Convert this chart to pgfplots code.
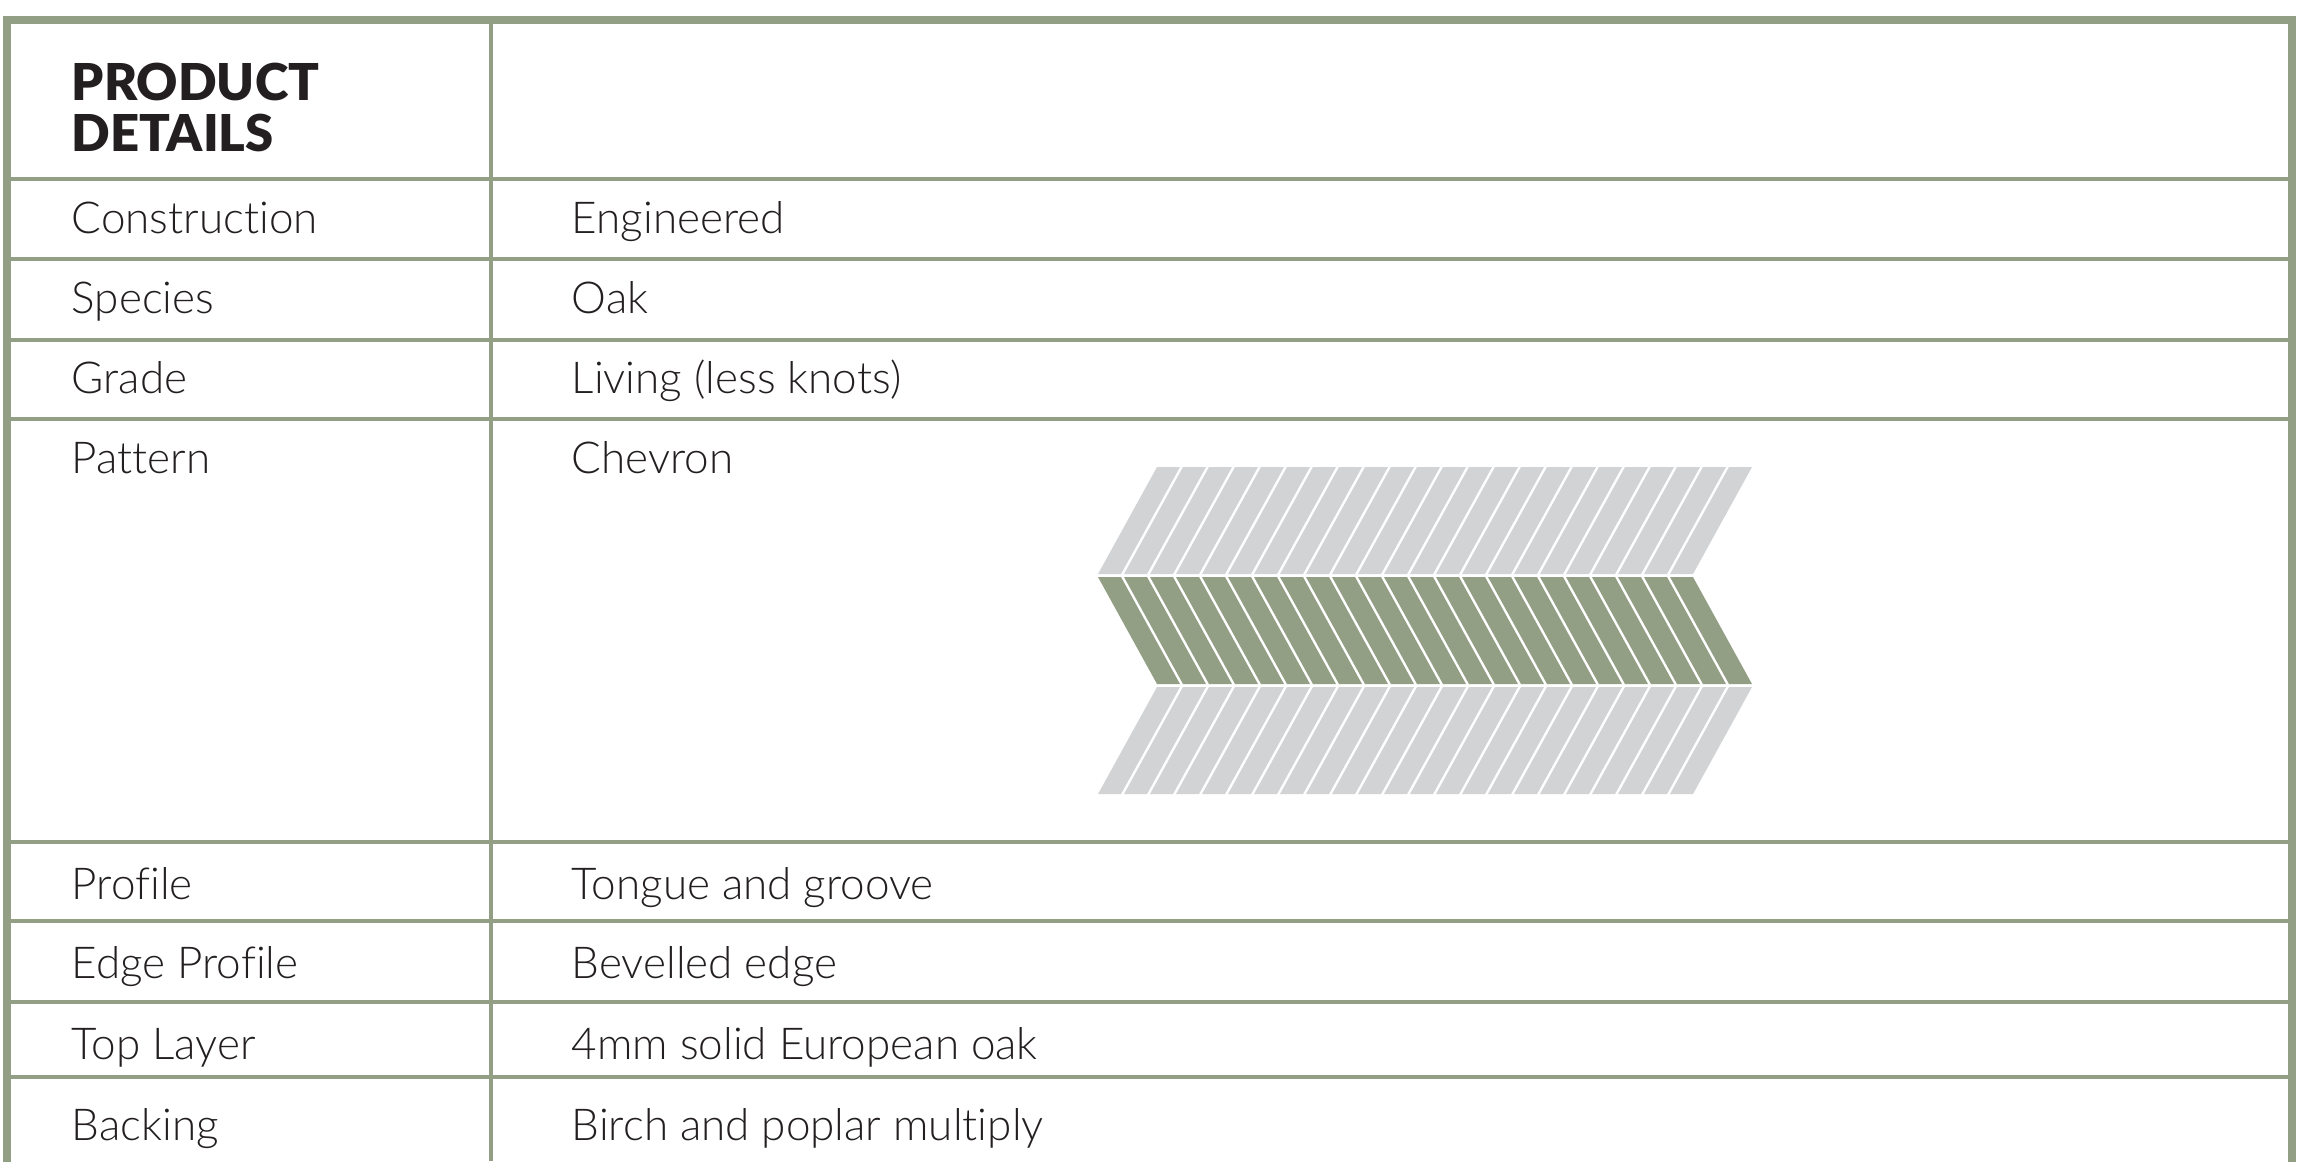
\documentclass[border=0pt]{standalone}
\usepackage{pgfplots}
\pgfplotsset{compat=1.18}
\usepackage{fontspec}
\setmainfont{Lato}[UprightFont=* Light, BoldFont=* Black, Ligatures=NoCommon]

\definecolor{sage}{HTML}{939F85}
\definecolor{chevgray}{HTML}{D1D3D4}
\definecolor{ink}{HTML}{231F20}

\newcommand\bodyfont{\fontsize{11}{13}\selectfont}
\newcommand\headfont{\fontsize{12.7}{14}\selectfont\bfseries}

\tikzset{
    gry/.style={fill=chevgray, draw=none},
    grn/.style={fill=sage, draw=none},
    rule/.style={draw=sage, line width=0.8pt},
    frame/.style={draw=sage, line width=2pt},
    lbl/.style={anchor=base west, inner sep=0pt, text=ink, font=\bodyfont},
}

\begin{document}
\begin{tikzpicture}
\begin{axis}[
    scale only axis,
    width=578.5pt, height=290.25pt,
    xmin=0, xmax=2314, ymin=0, ymax=1161,
    y dir=reverse,
    hide axis,
    clip=true,
    no marks,
]
\path (rel axis cs:0,0) rectangle (rel axis cs:1,1);

% table rules
\addplot[rule] coordinates {(7,179)(2292,179)};
\addplot[rule] coordinates {(7,259)(2292,259)};
\addplot[rule] coordinates {(7,340)(2292,340)};
\addplot[rule] coordinates {(7,419)(2292,419)};
\addplot[rule] coordinates {(7,842)(2292,842)};
\addplot[rule] coordinates {(7,921)(2292,921)};
\addplot[rule] coordinates {(7,1002)(2292,1002)};
\addplot[rule] coordinates {(7,1077)(2292,1077)};
\addplot[rule] coordinates {(491,20)(491,1161)};
% outer frame
\addplot[frame] coordinates {(7,1170)(7,20)(2292,20)(2292,1170)};

% chevron: upper grey row
\addplot[gry] coordinates {(1098,574)(1121,574)(1180,467)(1157,467)};
\addplot[gry] coordinates {(1124,574)(1147,574)(1206,467)(1183,467)};
\addplot[gry] coordinates {(1150,574)(1173,574)(1232,467)(1209,467)};
\addplot[gry] coordinates {(1176,574)(1199,574)(1258,467)(1235,467)};
\addplot[gry] coordinates {(1202,574)(1225,574)(1284,467)(1261,467)};
\addplot[gry] coordinates {(1228,574)(1251,574)(1310,467)(1287,467)};
\addplot[gry] coordinates {(1254,574)(1277,574)(1336,467)(1313,467)};
\addplot[gry] coordinates {(1280,574)(1303,574)(1362,467)(1339,467)};
\addplot[gry] coordinates {(1306,574)(1329,574)(1388,467)(1365,467)};
\addplot[gry] coordinates {(1332,574)(1355,574)(1414,467)(1391,467)};
\addplot[gry] coordinates {(1358,574)(1381,574)(1440,467)(1417,467)};
\addplot[gry] coordinates {(1384,574)(1407,574)(1466,467)(1443,467)};
\addplot[gry] coordinates {(1410,574)(1433,574)(1492,467)(1469,467)};
\addplot[gry] coordinates {(1436,574)(1459,574)(1518,467)(1495,467)};
\addplot[gry] coordinates {(1462,574)(1485,574)(1544,467)(1521,467)};
\addplot[gry] coordinates {(1488,574)(1511,574)(1570,467)(1547,467)};
\addplot[gry] coordinates {(1514,574)(1537,574)(1596,467)(1573,467)};
\addplot[gry] coordinates {(1540,574)(1563,574)(1622,467)(1599,467)};
\addplot[gry] coordinates {(1566,574)(1589,574)(1648,467)(1625,467)};
\addplot[gry] coordinates {(1592,574)(1615,574)(1674,467)(1651,467)};
\addplot[gry] coordinates {(1618,574)(1641,574)(1700,467)(1677,467)};
\addplot[gry] coordinates {(1644,574)(1667,574)(1726,467)(1703,467)};
\addplot[gry] coordinates {(1670,574)(1693,574)(1752,467)(1729,467)};

% chevron: green row
\addplot[grn] coordinates {(1098,577)(1121,577)(1180,684)(1157,684)};
\addplot[grn] coordinates {(1124,577)(1147,577)(1206,684)(1183,684)};
\addplot[grn] coordinates {(1150,577)(1173,577)(1232,684)(1209,684)};
\addplot[grn] coordinates {(1176,577)(1199,577)(1258,684)(1235,684)};
\addplot[grn] coordinates {(1202,577)(1225,577)(1284,684)(1261,684)};
\addplot[grn] coordinates {(1228,577)(1251,577)(1310,684)(1287,684)};
\addplot[grn] coordinates {(1254,577)(1277,577)(1336,684)(1313,684)};
\addplot[grn] coordinates {(1280,577)(1303,577)(1362,684)(1339,684)};
\addplot[grn] coordinates {(1306,577)(1329,577)(1388,684)(1365,684)};
\addplot[grn] coordinates {(1332,577)(1355,577)(1414,684)(1391,684)};
\addplot[grn] coordinates {(1358,577)(1381,577)(1440,684)(1417,684)};
\addplot[grn] coordinates {(1384,577)(1407,577)(1466,684)(1443,684)};
\addplot[grn] coordinates {(1410,577)(1433,577)(1492,684)(1469,684)};
\addplot[grn] coordinates {(1436,577)(1459,577)(1518,684)(1495,684)};
\addplot[grn] coordinates {(1462,577)(1485,577)(1544,684)(1521,684)};
\addplot[grn] coordinates {(1488,577)(1511,577)(1570,684)(1547,684)};
\addplot[grn] coordinates {(1514,577)(1537,577)(1596,684)(1573,684)};
\addplot[grn] coordinates {(1540,577)(1563,577)(1622,684)(1599,684)};
\addplot[grn] coordinates {(1566,577)(1589,577)(1648,684)(1625,684)};
\addplot[grn] coordinates {(1592,577)(1615,577)(1674,684)(1651,684)};
\addplot[grn] coordinates {(1618,577)(1641,577)(1700,684)(1677,684)};
\addplot[grn] coordinates {(1644,577)(1667,577)(1726,684)(1703,684)};
\addplot[grn] coordinates {(1670,577)(1693,577)(1752,684)(1729,684)};

% chevron: lower grey row
\addplot[gry] coordinates {(1098,794)(1121,794)(1180,687)(1157,687)};
\addplot[gry] coordinates {(1124,794)(1147,794)(1206,687)(1183,687)};
\addplot[gry] coordinates {(1150,794)(1173,794)(1232,687)(1209,687)};
\addplot[gry] coordinates {(1176,794)(1199,794)(1258,687)(1235,687)};
\addplot[gry] coordinates {(1202,794)(1225,794)(1284,687)(1261,687)};
\addplot[gry] coordinates {(1228,794)(1251,794)(1310,687)(1287,687)};
\addplot[gry] coordinates {(1254,794)(1277,794)(1336,687)(1313,687)};
\addplot[gry] coordinates {(1280,794)(1303,794)(1362,687)(1339,687)};
\addplot[gry] coordinates {(1306,794)(1329,794)(1388,687)(1365,687)};
\addplot[gry] coordinates {(1332,794)(1355,794)(1414,687)(1391,687)};
\addplot[gry] coordinates {(1358,794)(1381,794)(1440,687)(1417,687)};
\addplot[gry] coordinates {(1384,794)(1407,794)(1466,687)(1443,687)};
\addplot[gry] coordinates {(1410,794)(1433,794)(1492,687)(1469,687)};
\addplot[gry] coordinates {(1436,794)(1459,794)(1518,687)(1495,687)};
\addplot[gry] coordinates {(1462,794)(1485,794)(1544,687)(1521,687)};
\addplot[gry] coordinates {(1488,794)(1511,794)(1570,687)(1547,687)};
\addplot[gry] coordinates {(1514,794)(1537,794)(1596,687)(1573,687)};
\addplot[gry] coordinates {(1540,794)(1563,794)(1622,687)(1599,687)};
\addplot[gry] coordinates {(1566,794)(1589,794)(1648,687)(1625,687)};
\addplot[gry] coordinates {(1592,794)(1615,794)(1674,687)(1651,687)};
\addplot[gry] coordinates {(1618,794)(1641,794)(1700,687)(1677,687)};
\addplot[gry] coordinates {(1644,794)(1667,794)(1726,687)(1703,687)};
\addplot[gry] coordinates {(1670,794)(1693,794)(1752,687)(1729,687)};

% header
\node[lbl, font=\headfont] at (axis cs:71,100) {PRODUCT};
\node[lbl, font=\headfont] at (axis cs:71,151) {DETAILS};

% left column
\node[lbl] at (axis cs:71,233) {Construction};
\node[lbl] at (axis cs:71,313) {Species};
\node[lbl] at (axis cs:71,393) {Grade};
\node[lbl] at (axis cs:71,473) {Pattern};
\node[lbl] at (axis cs:71,899) {Profile};
\node[lbl] at (axis cs:71,978) {Edge Profile};
\node[lbl] at (axis cs:71,1059) {Top Layer};
\node[lbl] at (axis cs:71,1140) {Backing};

% right column
\node[lbl] at (axis cs:571,233) {Engineered};
\node[lbl] at (axis cs:571,313) {Oak};
\node[lbl] at (axis cs:571,393) {Living (less knots)};
\node[lbl] at (axis cs:571,473) {Chevron};
\node[lbl] at (axis cs:571,899) {Tongue and groove};
\node[lbl] at (axis cs:571,978) {Bevelled edge};
\node[lbl] at (axis cs:571,1059) {4mm solid European oak};
\node[lbl] at (axis cs:571,1140) {Birch and poplar multiply};
\end{axis}
\end{tikzpicture}
\end{document}
